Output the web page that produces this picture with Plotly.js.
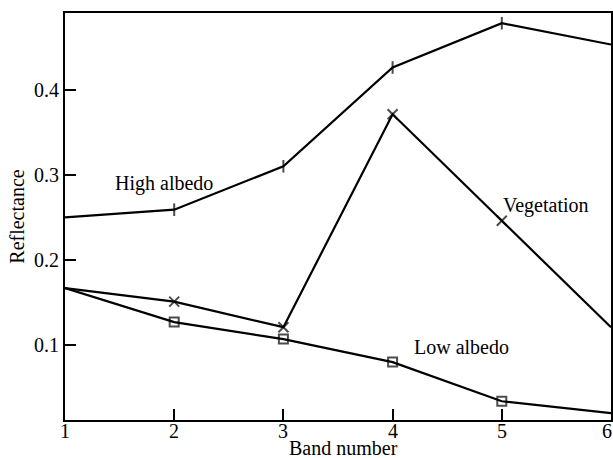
<!DOCTYPE html>
<html>
<head>
<meta charset="utf-8">
<script src="https://cdn.plot.ly/plotly-3.0.1.min.js"></script>
<style>html,body{margin:0;padding:0;background:#fff}</style>
</head>
<body>
<div id="chart" style="width:613px;height:458px"></div>
<script>
const bands = [1, 2, 3, 4, 5, 6];
const highAlbedo = [0.250, 0.259, 0.310, 0.426, 0.478, 0.453];
const vegetation = [0.167, 0.151, 0.121, 0.371, 0.246, 0.121];
const lowAlbedo = [0.167, 0.127, 0.107, 0.080, 0.034, 0.020];
const yTicks = [0.1, 0.2, 0.3, 0.4];
const yTickText = ["0.1", "0.2", "0.3", "0.4"];
const xTicks = [1, 2, 3, 4, 5, 6];
const xTickText = ["1", "2", "3", "4", "5", "6"];

const inner = [0, 1, 1, 1, 1, 0];
function sizes(s) { return inner.map(v => v ? s : 0); }

const line = {color: '#000', width: 2.2};
const traces = [
  {x: bands, y: highAlbedo, mode: 'lines+markers', line: line,
   marker: {symbol: 'line-ns', size: sizes(9), line: {color: '#000', width: 2}}},
  {x: bands, y: vegetation, mode: 'lines+markers', line: line,
   marker: {symbol: 'x-thin-open', size: sizes(10), line: {color: '#000', width: 2}}},
  {x: bands, y: lowAlbedo, mode: 'lines+markers', line: line,
   marker: {symbol: 'square-open', size: sizes(9), color: '#000', line: {color: '#000', width: 2}}}
];

const font = {family: '"Liberation Serif", "Times New Roman", serif', size: 20, color: '#000'};

const xLabelAnns = xTicks.map((v, i) => ({
  x: v, y: 0, xref: 'x', yref: 'paper', text: xTickText[i], showarrow: false,
  xanchor: 'center', yanchor: 'middle', yshift: -11, xshift: (i === xTicks.length - 1 ? -4 : 0), font: font
}));

const layout = {
  width: 613, height: 458,
  margin: {l: 65, r: 2, t: 13, b: 38},
  paper_bgcolor: '#fff', plot_bgcolor: '#fff',
  showlegend: false,
  font: font,
  xaxis: {range: [1, 6], tickvals: xTicks, showticklabels: false, ticks: 'inside', ticklen: 11, tickwidth: 2, tickcolor: '#000',
          showgrid: false, zeroline: false, showline: true, linecolor: '#000', linewidth: 2, mirror: true},
  yaxis: {range: [0.012, 0.49], tickvals: yTicks, ticktext: yTickText, ticks: 'inside', ticklen: 11, tickwidth: 2, tickcolor: '#000',
          showgrid: false, zeroline: false, showline: true, linecolor: '#000', linewidth: 2, mirror: true,
          tickfont: font, title: {text: 'Reflectance', font: font, standoff: 4}},
  annotations: xLabelAnns.concat([
    {x: 3.55, y: 0, xref: 'x', yref: 'paper', text: 'Band number', showarrow: false,
     xanchor: 'center', yanchor: 'bottom', yshift: -41, font: font},
    {x: 1.907, y: 0.29, text: 'High albedo', showarrow: false, xref: 'x', yref: 'y', font: font},
    {x: 5.405, y: 0.264, text: 'Vegetation', showarrow: false, xref: 'x', yref: 'y', font: font},
    {x: 4.63, y: 0.098, text: 'Low albedo', showarrow: false, xref: 'x', yref: 'y', font: font}
  ])
};
Plotly.newPlot('chart', traces, layout, {staticPlot: true});
</script>
</body>
</html>
